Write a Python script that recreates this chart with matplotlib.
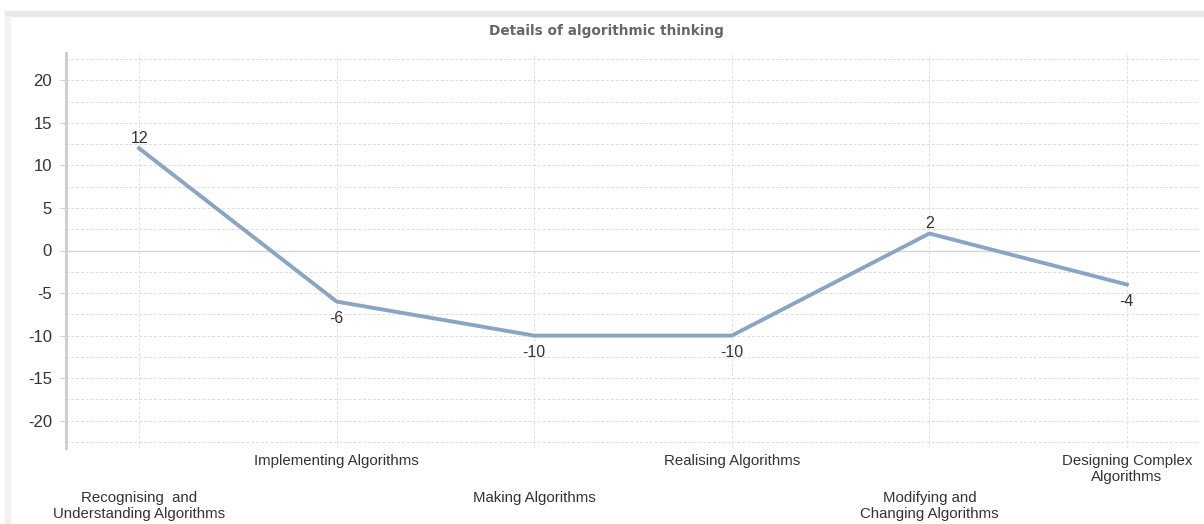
import matplotlib
matplotlib.use("Agg")
import matplotlib.pyplot as plt
from matplotlib.patches import Rectangle

categories = [
    "Recognising  and\nUnderstanding Algorithms",
    "Implementing Algorithms",
    "Making Algorithms",
    "Realising Algorithms",
    "Modifying and\nChanging Algorithms",
    "Designing Complex\nAlgorithms",
]
values = [12, -6, -10, -10, 2, -4]
label_above = [True, False, False, False, True, False]
yticks = [-20, -15, -10, -5, 0, 5, 10, 15, 20]

FONT = ["Liberation Sans", "DejaVu Sans"]

W, H = 1204, 524
fig = plt.figure(figsize=(W / 100, H / 100), dpi=100)
fig.patch.set_facecolor("white")

# outer frame bands
fig.patches.append(Rectangle((5 / W, 1 - 16 / H), 1 - 5 / W, 5 / H,
                             transform=fig.transFigure, color="#e8e8e8", zorder=0))
fig.patches.append(Rectangle((5 / W, 0), 5 / W, 1 - 16 / H,
                             transform=fig.transFigure, color="#f3f3f3", zorder=0))

ax = fig.add_axes([66 / W, 1 - 448 / H, (1200 - 66) / W, (448 - 53) / H])
ax.set_facecolor("none")
x = list(range(len(values)))
ax.set_xlim(-0.37, 5.37)
ax.set_ylim(-23.2, 23.2)

# gridlines
for yy in [v / 2 for v in range(-45, 46, 5)]:
    if abs(yy) <= 23 and yy != 0:
        ax.axhline(yy, color="#dcdcdc", lw=0.7, ls=(0, (3, 2)), zorder=1)
ax.axhline(0, color="#d4d4d4", lw=1.0, zorder=1)
for xi in x:
    ax.axvline(xi, color="#e0e0e0", lw=0.7, ls=(0, (3, 2)), zorder=1)

ax.plot(x, values, color="#8aa4c4", lw=2.8, zorder=3, solid_joinstyle="round")

for xi, v, above in zip(x, values, label_above):
    if above:
        ax.annotate(str(v), (xi, v), xytext=(0, 2), textcoords="offset points",
                    ha="center", va="bottom", fontsize=11.5, color="#333333",
                    family=FONT)
    else:
        ax.annotate(str(v), (xi, v), xytext=(0, -6.5), textcoords="offset points",
                    ha="center", va="top", fontsize=11.5, color="#333333",
                    family=FONT)

ax.set_yticks(yticks)
ax.set_yticklabels([str(t) for t in yticks], fontsize=12, color="#333333",
                   family=FONT)
ax.tick_params(axis="y", length=4, color="#cccccc", pad=6)
ax.set_xticks(x)
ax.set_xticklabels([])
ax.tick_params(axis="x", length=0)

for s in ["top", "right", "bottom"]:
    ax.spines[s].set_visible(False)
ax.spines["left"].set_color("#cccccc")
ax.spines["left"].set_linewidth(2)

# staggered category labels
for xi, lab in enumerate(categories):
    off = -4 if xi % 2 == 1 else -31
    ax.annotate(lab, (xi, 0), xycoords=("data", "axes fraction"),
                xytext=(0, off), textcoords="offset points",
                ha="center", va="top", fontsize=10.8, color="#333333",
                linespacing=1.2, family=FONT)

fig.text(606 / W, 1 - 31 / H, "Details of algorithmic thinking", ha="center",
         va="center", fontsize=9.8, fontweight="bold", color="#666666")

fig.savefig("out.png", dpi=100)
